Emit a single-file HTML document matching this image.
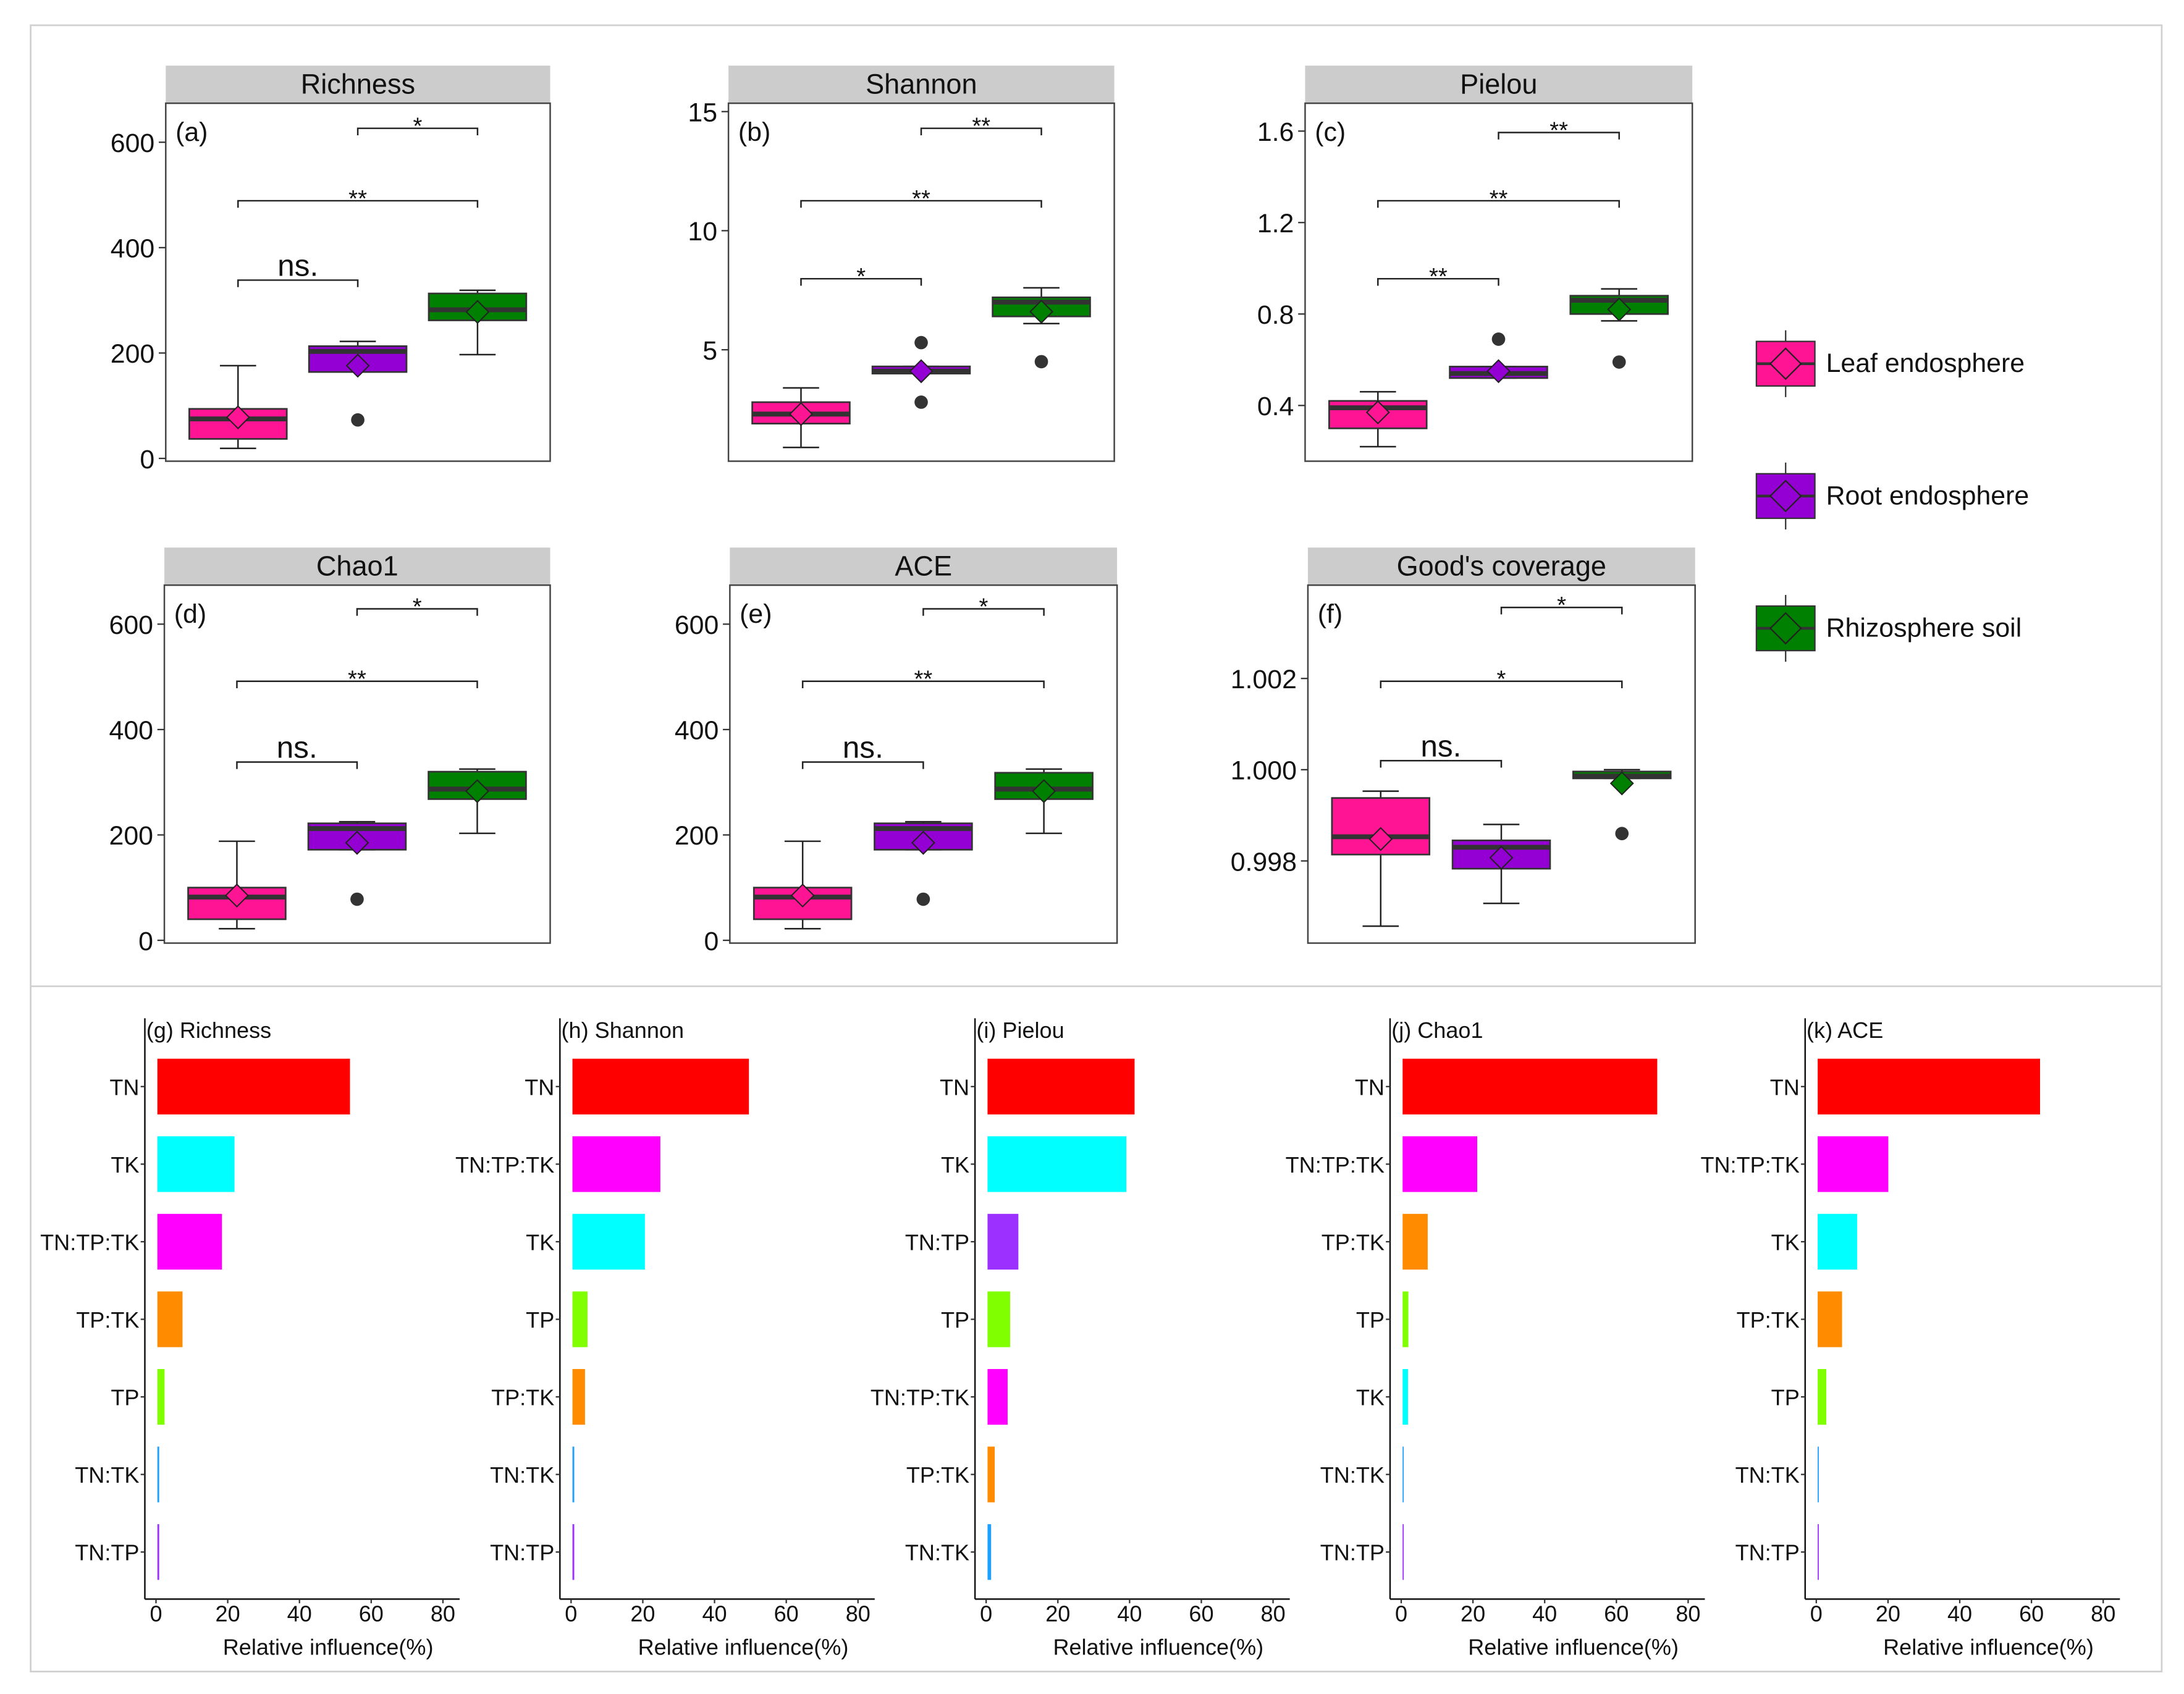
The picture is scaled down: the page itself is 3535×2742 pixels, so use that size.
<!DOCTYPE html>
<html><head><meta charset="utf-8">
<style>
html,body{margin:0;padding:0;background:#fff;}
svg{display:block;}
text{font-family:"Liberation Sans",Arial,sans-serif;}
</style></head>
<body>
<svg id="fig" width="3535" height="2742" viewBox="0 0 1568 1216" xmlns="http://www.w3.org/2000/svg">
<rect x="0" y="0" width="1568" height="1216" fill="#fff"/>
<rect x="22" y="18" width="1530" height="1182" fill="none" stroke="#d0d0d0" stroke-width="1.2"/>
<line x1="22" y1="708" x2="1552" y2="708" stroke="#d0d0d0" stroke-width="1.2"/>
<g id="topPanels"></g>
<g id="legend"></g>
<g id="bottomPanels"></g>
</svg>
<script>
// ---- Box plot data: [min, q1, median, q3, max, mean] per group (Leaf, Root, Rhizosphere)
const groups = ["Leaf endosphere","Root endosphere","Rhizosphere soil"];
const groupColors = ["#FF1493","#9400D3","#008000"];
const richnessStats = [[19,37,75,94,176,78],[164,164,203,213,222,176],[197,262,282,313,319,278]];
const richnessOutliers = [[],[73],[]];
const shannonStats = [[0.9,1.9,2.3,2.8,3.4,2.3],[4.0,4.0,4.1,4.3,4.3,4.1],[6.1,6.4,7.0,7.2,7.6,6.6]];
const shannonOutliers = [[],[5.3,2.8],[4.5]];
const pielouStats = [[0.22,0.30,0.39,0.42,0.46,0.37],[0.52,0.52,0.54,0.57,0.57,0.55],[0.77,0.80,0.86,0.88,0.91,0.82]];
const pielouOutliers = [[],[0.69],[0.59]];
const chao1Stats = [[22,40,82,100,188,85],[172,172,212,222,225,185],[203,268,287,320,325,283]];
const chao1Outliers = [[],[78],[]];
const aceStats = [[22,40,82,100,188,85],[172,172,212,222,225,185],[203,268,287,318,325,283]];
const aceOutliers = [[],[78],[]];
const goodsStats = [[0.99657,0.99814,0.99853,0.99938,0.99953,0.99848],[0.99707,0.99783,0.99830,0.99845,0.99880,0.99807],[0.99981,0.99981,0.99986,0.99996,1.0,0.9997]];
const goodsOutliers = [[],[],[0.9986]];
// tick labels
const richnessTicks = [0,200,400,600];
const shannonTicks = [5,10,15];
const pielouTicks = [0.4,0.8,1.2,1.6];
const goodsTicks = [0.998,1.000,1.002];
// significance labels: [groupA, groupB, label]
const sigRichness = [[0,1,"ns."],[0,2,"**"],[1,2,"*"]];
const sigShannon = [[0,1,"*"],[0,2,"**"],[1,2,"**"]];
const sigPielou = [[0,1,"**"],[0,2,"**"],[1,2,"**"]];
const sigChao1 = [[0,1,"ns."],[0,2,"**"],[1,2,"*"]];
const sigAce = [[0,1,"ns."],[0,2,"**"],[1,2,"*"]];
const sigGoods = [[0,1,"ns."],[0,2,"*"],[1,2,"*"]];

// ---- Bar chart data (relative influence %)
const barGTerms = ["TN","TK","TN:TP:TK","TP:TK","TP","TN:TK","TN:TP"];
const barGValues = [53.7,21.5,18.0,7.0,2.0,0.5,0.5];
const barHTerms = ["TN","TN:TP:TK","TK","TP","TP:TK","TN:TK","TN:TP"];
const barHValues = [49.2,24.5,20.2,4.2,3.5,0.5,0.5];
const barITerms = ["TN","TK","TN:TP","TP","TN:TP:TK","TP:TK","TN:TK"];
const barIValues = [41.0,38.7,8.6,6.3,5.6,2.0,1.0];
const barJTerms = ["TN","TN:TP:TK","TP:TK","TP","TK","TN:TK","TN:TP"];
const barJValues = [71.0,20.8,7.0,1.6,1.5,0.3,0.3];
const barKTerms = ["TN","TN:TP:TK","TK","TP:TK","TP","TN:TK","TN:TP"];
const barKValues = [62.0,19.7,11.0,6.8,2.4,0.3,0.3];
const barTicks = [0,20,40,60,80];
const termColors = {"TN":"#FF0000","TK":"#00FFFF","TN:TP:TK":"#FF00FF","TP:TK":"#FF8C00","TP":"#7FFF00","TN:TK":"#1EA0FF","TN:TP":"#9B30FF"};

const NS="http://www.w3.org/2000/svg";
function mk(parent,tag,attrs,txt){const e=document.createElementNS(NS,tag);for(const k in attrs)e.setAttribute(k,attrs[k]);if(txt!==undefined)e.textContent=txt;parent.appendChild(e);return e;}
function fmt(v,d){return v.toFixed(d);}

const topG=document.getElementById('topPanels');
const boxPanels=[
 {key:"richness",title:"Richness",tag:"(a)",x:119,y:74,w:276,h:257,v0:0,p0:329,v1:600,p1:102,stats:richnessStats,out:richnessOutliers,ticks:richnessTicks,dec:0,sig:sigRichness,sigY:[201,144,92]},
 {key:"shannon",title:"Shannon",tag:"(b)",x:523,y:74,w:277,h:257,v0:5,p0:251,v1:15,p1:80,stats:shannonStats,out:shannonOutliers,ticks:shannonTicks,dec:0,sig:sigShannon,sigY:[200,144,92]},
 {key:"pielou",title:"Pielou",tag:"(c)",x:937,y:74,w:278,h:257,v0:0.4,p0:291,v1:1.6,p1:94,stats:pielouStats,out:pielouOutliers,ticks:pielouTicks,dec:1,sig:sigPielou,sigY:[200,144,95]},
 {key:"chao1",title:"Chao1",tag:"(d)",x:118,y:420,w:277,h:257,v0:0,p0:675,v1:600,p1:448,stats:chao1Stats,out:chao1Outliers,ticks:richnessTicks,dec:0,sig:sigChao1,sigY:[547,489,437]},
 {key:"ace",title:"ACE",tag:"(e)",x:524,y:420,w:278,h:257,v0:0,p0:675,v1:600,p1:448,stats:aceStats,out:aceOutliers,ticks:richnessTicks,dec:0,sig:sigAce,sigY:[547,489,437]},
 {key:"goods",title:"Good's coverage",tag:"(f)",x:939,y:420,w:278,h:257,v0:0.998,p0:618,v1:1.002,p1:487,stats:goodsStats,out:goodsOutliers,ticks:goodsTicks,dec:3,sig:sigGoods,sigY:[546,489,436]}
];
boxPanels.forEach(p=>{
  const g=mk(topG,'g',{});
  
  
  const Y=v=>p.p0+(v-p.v0)*(p.p1-p.p0)/(p.v1-p.v0);
  const cx=i=>p.x+p.w*(0.188+0.3115*i);
  const strip=mk(g,'rect',{x:p.x,y:p.y-27,width:p.w,height:27,fill:"#CCCCCC"});
  
  
  const st=mk(g,'text',{x:p.x+p.w/2,y:p.y-7,'text-anchor':'middle','font-size':20,fill:'#111'},p.title);
  
  
  const fr=mk(g,'rect',{x:p.x,y:p.y,width:p.w,height:p.h,fill:'#fff',stroke:'#444','stroke-width':1.1});
  
  
  const tg=mk(g,'text',{x:p.x+7,y:p.y+27,'font-size':19,fill:'#111'},p.tag);
  
  
  p.ticks.forEach(t=>{
    const yy=Y(t);
    mk(g,'line',{x1:p.x-5,x2:p.x,y1:yy,y2:yy,stroke:'#333','stroke-width':1});
    const tl=mk(g,'text',{x:p.x-8,y:yy+7,'text-anchor':'end','font-size':19,fill:'#111'},fmt(t,p.dec));
    
    
  });
  p.stats.forEach((s,i)=>{
    const c=cx(i), bw=70, cw=13;
    const bg=mk(g,'g',{});
    
    
    mk(bg,'line',{x1:c,x2:c,y1:Y(s[0]),y2:Y(s[4]),stroke:'#222','stroke-width':1.1});
    mk(bg,'line',{x1:c-cw,x2:c+cw,y1:Y(s[0]),y2:Y(s[0]),stroke:'#222','stroke-width':1.1});
    mk(bg,'line',{x1:c-cw,x2:c+cw,y1:Y(s[4]),y2:Y(s[4]),stroke:'#222','stroke-width':1.1});
    mk(bg,'rect',{x:c-bw/2,y:Y(s[3]),width:bw,height:Math.max(1,Y(s[1])-Y(s[3])),fill:groupColors[i],stroke:'#333','stroke-width':1.2});
    mk(bg,'line',{x1:c-bw/2,x2:c+bw/2,y1:Y(s[2]),y2:Y(s[2]),stroke:'#333','stroke-width':3.5});
    const m=Y(s[5]);
    mk(bg,'polygon',{points:`${c},${m-8} ${c+8},${m} ${c},${m+8} ${c-8},${m}`,fill:groupColors[i],stroke:'#222','stroke-width':0.9});
    p.out[i].forEach(o=>{
      const dot=mk(bg,'circle',{cx:c,cy:Y(o),r:4.8,fill:'#333'});
      
      
    });
  });
  p.sig.forEach((sg,k)=>{
    const y=p.sigY[k], a=cx(sg[0]), b=cx(sg[1]);
    const sgG=mk(g,'g',{});
    
    
    mk(sgG,'path',{d:`M${a},${y+5}V${y}H${b}V${y+5}`,fill:'none',stroke:'#222','stroke-width':1.1});
    const ns=sg[2]==="ns.";
    mk(sgG,'text',{x:(a+b)/2,y:ns?y-3:y+4,'text-anchor':'middle','font-size':ns?22:17,fill:'#111'},sg[2]);
  });
});

// legend
const leg=document.getElementById('legend');
const legY=[261,356,451];
groups.forEach((gname,i)=>{
  const e=mk(leg,'g',{});
  
  
  const x=1282,y=legY[i];
  mk(e,'line',{x1:x,x2:x,y1:y-24,y2:y+24,stroke:'#333','stroke-width':1});
  mk(e,'rect',{x:x-21,y:y-16,width:42,height:32,fill:groupColors[i],stroke:'#333','stroke-width':1});
  mk(e,'line',{x1:x-21,x2:x+21,y1:y,y2:y,stroke:'#333','stroke-width':2});
  mk(e,'polygon',{points:`${x},${y-11} ${x+11},${y} ${x},${y+11} ${x-11},${y}`,fill:groupColors[i],stroke:'#222','stroke-width':1});
  mk(e,'text',{x:1311,y:y+6,'font-size':19,fill:'#111'},gname);
});

// bar panels
const bottomG=document.getElementById('bottomPanels');
const barPanels=[
 {key:"g",label:"(g) Richness",x0:112,terms:barGTerms,vals:barGValues},
 {key:"h",label:"(h) Shannon",x0:410,terms:barHTerms,vals:barHValues},
 {key:"i",label:"(i) Pielou",x0:708,terms:barITerms,vals:barIValues},
 {key:"j",label:"(j) Chao1",x0:1006,terms:barJTerms,vals:barJValues},
 {key:"k",label:"(k) ACE",x0:1304,terms:barKTerms,vals:barKValues}
];
barPanels.forEach(p=>{
  const g=mk(bottomG,'g',{});
  
  
  const X=v=>p.x0+v*(206/80);
  const rowY=i=>780+i*55.7;
  const ax=p.x0-8;
  const t=mk(g,'text',{x:ax+1,y:745,'font-size':16,fill:'#111'},p.label);
  
  
  mk(g,'line',{x1:ax,x2:ax,y1:731,y2:1148,stroke:'#111','stroke-width':1.1});
  mk(g,'line',{x1:ax,x2:X(80)+12,y1:1148,y2:1148,stroke:'#111','stroke-width':1.1});
  p.terms.forEach((term,i)=>{
    const y=rowY(i);
    const b=mk(g,'rect',{x:X(0)+1,y:y-20,width:Math.max(0.8,X(p.vals[i])-X(0)),height:40,fill:termColors[term]});
    
    
    mk(g,'line',{x1:ax-3,x2:ax,y1:y,y2:y,stroke:'#333','stroke-width':1});
    const l=mk(g,'text',{x:ax-4,y:y+6,'text-anchor':'end','font-size':16,fill:'#111'},term);
    
    
  });
  barTicks.forEach(tk=>{
    mk(g,'line',{x1:X(tk),x2:X(tk),y1:1148,y2:1151,stroke:'#333','stroke-width':1});
    const tl=mk(g,'text',{x:X(tk),y:1164,'text-anchor':'middle','font-size':16,fill:'#111'},String(tk));
    
    
  });
  const xt=mk(g,'text',{x:X(48),y:1188,'text-anchor':'middle','font-size':16,fill:'#111'},'Relative influence(%)');
  
  
});
</script>
</body></html>
